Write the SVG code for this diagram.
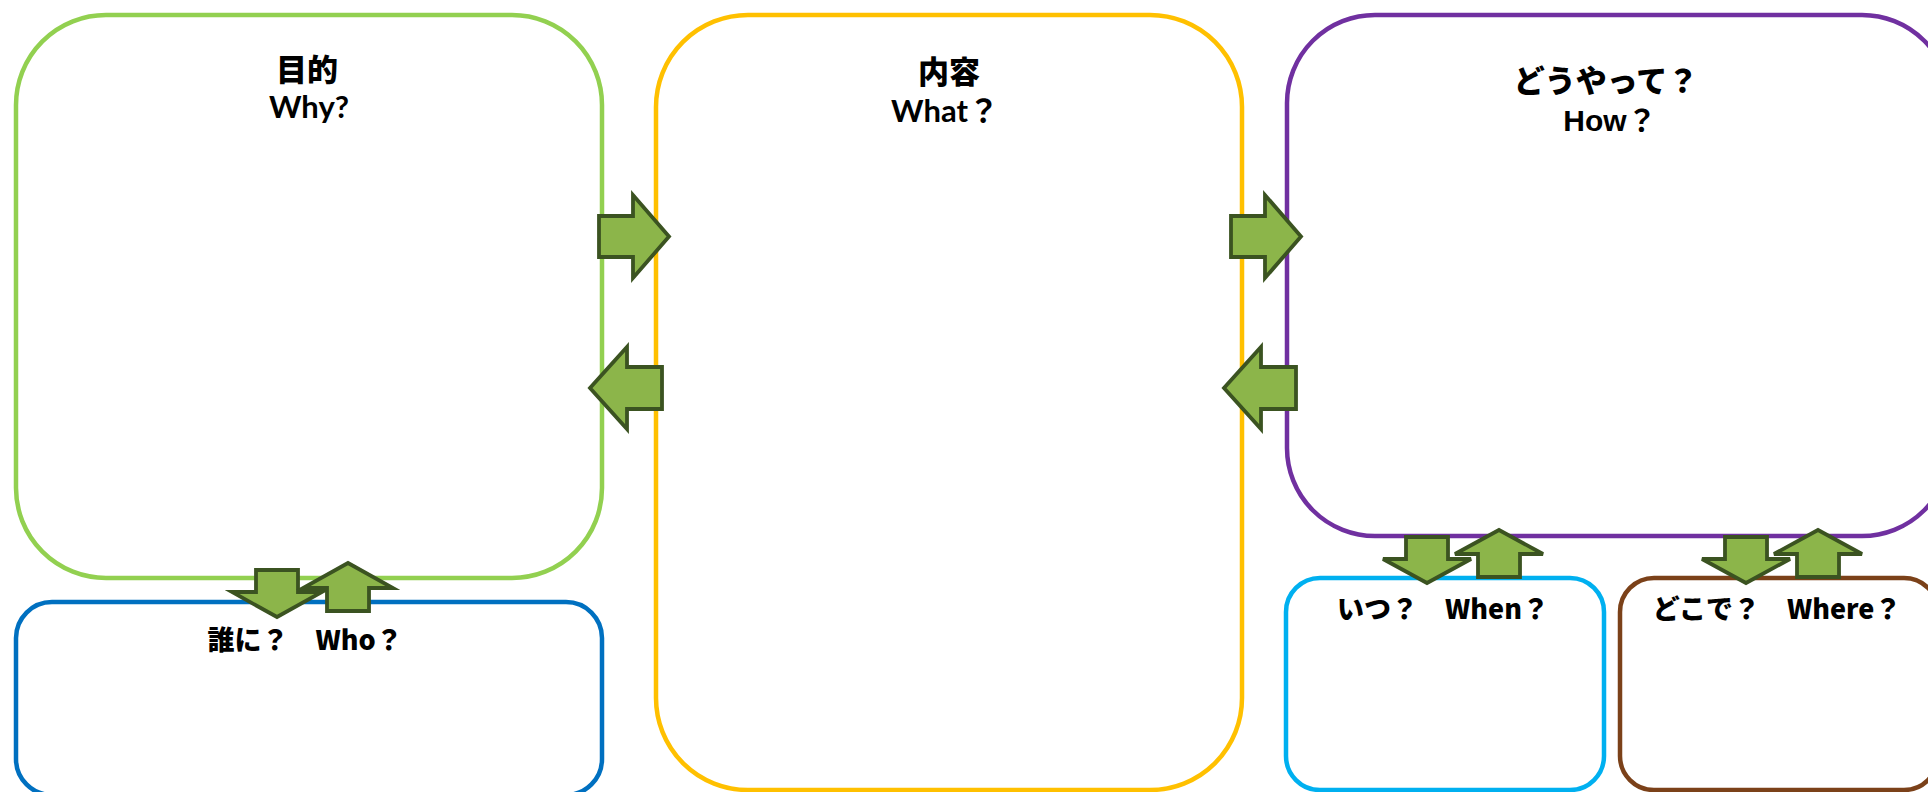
<svg xmlns="http://www.w3.org/2000/svg" width="1928" height="792" viewBox="0 0 1928 792">
<style>
.box{fill:#FFFFFF;stroke-width:4.5}
.arw{fill:#8CB54A;stroke:#3B5321;stroke-width:3.8;stroke-linejoin:miter}
.t{font-weight:bold;fill:#000000;text-anchor:middle}
.gill{font-family:"Lato","Noto Sans CJK JP",sans-serif;font-size:31px}
.jp{font-family:"Noto Sans CJK JP",sans-serif;font-size:31px;font-weight:900}
.jps{font-family:"Noto Sans CJK JP",sans-serif;font-size:27px;font-weight:900}
.ar{font-family:"Liberation Sans","Noto Sans CJK JP",sans-serif;font-size:30px}
</style>
<rect width="1928" height="792" fill="#FFFFFF"/>
<g id="why">
<rect class="box" x="16" y="15" width="586" height="563" rx="90" ry="90" stroke="#92D050"/>
<text class="t jp" x="307" y="81">目的</text>
<text class="t gill" x="309" y="118">Why?</text>
</g>
<g id="what">
<rect class="box" x="656" y="15" width="586" height="775" rx="92" ry="92" stroke="#FFC000"/>
<text class="t jp" x="949" y="83">内容</text>
<text class="t gill" x="945" y="122">What？</text>
</g>
<g id="how">
<rect class="box" x="1287" y="15" width="663" height="521" rx="88" ry="88" stroke="#7030A0"/>
<text class="t jp" x="1606" y="92">どうやって？</text>
<text class="t ar" x="1610" y="131">How？</text>
</g>
<g id="who">
<rect class="box" x="16" y="602" width="586" height="193" rx="36" ry="36" stroke="#0070C0"/>
<text class="t jps" x="305" y="650">誰に？　Who？</text>
</g>
<g id="when">
<rect class="box" x="1286" y="578" width="318" height="212" rx="34" ry="34" stroke="#00B0F0"/>
<text class="t jps" x="1443" y="619">いつ？　When？</text>
</g>
<g id="where">
<rect class="box" x="1620" y="578" width="318" height="212" rx="34" ry="34" stroke="#7B4119"/>
<text class="t jps" x="1777" y="619">どこで？　Where？</text>
</g>
<g id="connectors">
<polygon class="arw" points="599,216 633,216 633,195 669,236.5 633,278 633,257 599,257"/>
<polygon class="arw" points="662,367 627,367 627,347 590,388 627,429 627,409 662,409"/>
<polygon class="arw" points="1231,216 1265,216 1265,195 1301,236.5 1265,278 1265,257 1231,257"/>
<polygon class="arw" points="1296,367 1261,367 1261,347 1224,388 1261,429 1261,409 1296,409"/>
<polygon class="arw" points="256,570 298,570 298,592 322,592 277,617 232,592 256,592"/>
<polygon class="arw" points="348,563 393,588 369,588 369,611 327,611 327,588 303,588"/>
<polygon class="arw" points="1406,537 1448,537 1448,559 1471,559 1427,583 1383,559 1406,559"/>
<polygon class="arw" points="1499,530 1543,554 1520,554 1520,577 1478,577 1478,554 1455,554"/>
<polygon class="arw" points="1725,537 1767,537 1767,559 1790,559 1746,583 1702,559 1725,559"/>
<polygon class="arw" points="1818,530 1862,554 1839,554 1839,577 1797,577 1797,554 1774,554"/>
</g>
</svg>
